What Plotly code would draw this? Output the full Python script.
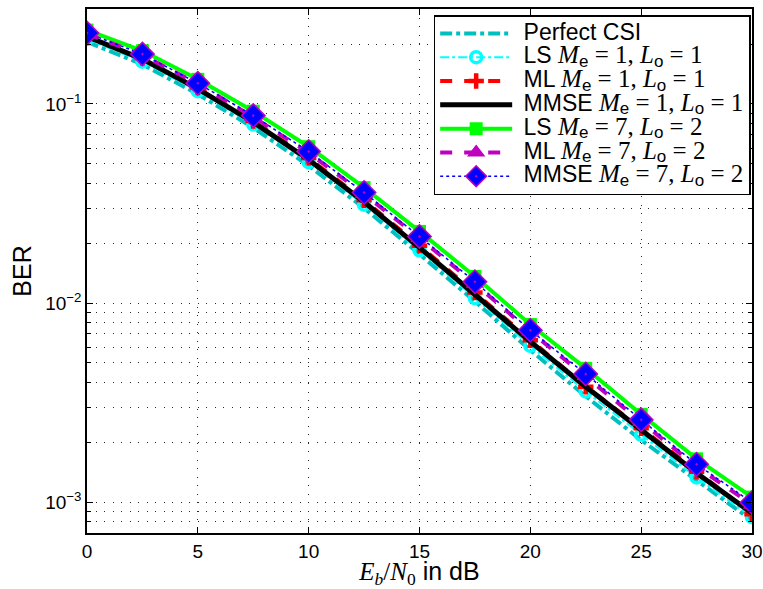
import plotly.graph_objects as go

snr_db = [0, 2.5, 5, 7.5, 10, 12.5, 15, 17.5, 20, 22.5, 25, 27.5, 30]

ber_perfect = [0.205, 0.158, 0.112, 0.076, 0.049, 0.0300, 0.0176, 0.0102, 0.0058, 0.0034, 0.00205, 0.00128, 0.00081]
ber_ls_1 = [0.212, 0.163, 0.116, 0.079, 0.051, 0.0312, 0.0184, 0.0106, 0.0061, 0.0036, 0.00218, 0.00133, 0.00084]
ber_ml_1 = [0.219, 0.170, 0.121, 0.082, 0.0535, 0.0328, 0.0194, 0.0113, 0.0065, 0.0038, 0.00235, 0.00142, 0.00087]
ber_mmse_1 = [0.218, 0.168, 0.119, 0.081, 0.0525, 0.0322, 0.0190, 0.0110, 0.0064, 0.0038, 0.00232, 0.00140, 0.00088]
ber_ls_7 = [0.235, 0.185, 0.133, 0.092, 0.061, 0.038, 0.0229, 0.0136, 0.0078, 0.0047, 0.00276, 0.00165, 0.00106]
ber_ml_7 = [0.225, 0.176, 0.126, 0.086, 0.0568, 0.0353, 0.0212, 0.0125, 0.0072, 0.0043, 0.00253, 0.00151, 0.00097]
ber_mmse_7 = [0.227, 0.178, 0.127, 0.0874, 0.0577, 0.0359, 0.0216, 0.0128, 0.0073, 0.0044, 0.00259, 0.00155, 0.000997]

y_tickvals = [1e-3, 1e-2, 1e-1]
y_ticktext = ["10<sup>\u22123</sup>", "10<sup>\u22122</sup>", "10<sup>\u22121</sup>"]
y_minor = [8e-4, 9e-4] + [k * 1e-3 for k in range(2, 10)] + [k * 1e-2 for k in range(2, 10)] + [2e-1, 3e-1]
x_tickvals = [0, 5, 10, 15, 20, 25, 30]

SANS = "Liberation Sans"
SERIF = "Liberation Serif"
LEG_PX = 23
MATH_PX = 25
SUB_PX = 17


def seg(s, serif=False, px=None):
    fam = SERIF if serif else SANS
    if px is None:
        px = MATH_PX if serif else LEG_PX
    return f'<span style="font-family:{fam};font-size:{px}px">{s}</span>'


def sub(s):
    return "<sub>" + seg(s, px=SUB_PX) + "</sub>"


GAP = seg("&nbsp;")


def label(name, me, lo):
    return (GAP + seg(f"{name} ") + seg("<i>M</i>", True) + sub("e") + seg(f" = {me}, ", True) +
            seg("<i>L</i>", True) + sub("o") + seg(f" = {lo}", True))


fig = go.Figure()

fig.add_trace(go.Scatter(x=snr_db, y=ber_perfect, name=GAP + seg("Perfect CSI"), mode="lines",
                         line=dict(color="rgb(0,191,191)", width=4, dash="dashdot")))
fig.add_trace(go.Scatter(x=snr_db, y=ber_ls_1, name=label("LS", 1, 1), mode="lines+markers",
                         line=dict(color="rgb(0,255,255)", width=2, dash="dashdot"),
                         marker=dict(symbol="circle-open", size=11, color="rgb(0,255,255)",
                                     line=dict(width=3.5, color="rgb(0,255,255)"))))
fig.add_trace(go.Scatter(x=snr_db, y=ber_ml_1, name=label("ML", 1, 1), mode="lines+markers",
                         line=dict(color="rgb(255,0,0)", width=4, dash="dash"),
                         marker=dict(symbol="cross-thin", size=11, color="rgb(255,0,0)",
                                     line=dict(width=4.5, color="rgb(255,0,0)"))))
fig.add_trace(go.Scatter(x=snr_db, y=ber_mmse_1, name=label("MMSE", 1, 1), mode="lines",
                         line=dict(color="black", width=5)))
fig.add_trace(go.Scatter(x=snr_db, y=ber_ls_7, name=label("LS", 7, 2), mode="lines+markers",
                         line=dict(color="rgb(0,255,0)", width=4),
                         marker=dict(symbol="square", size=13, color="rgb(0,255,0)")))
fig.add_trace(go.Scatter(x=snr_db, y=ber_ml_7, name=label("ML", 7, 2), mode="lines+markers",
                         line=dict(color="rgb(191,0,191)", width=4, dash="dash"),
                         marker=dict(symbol="triangle-up", size=16, color="rgb(191,0,191)")))
fig.add_trace(go.Scatter(x=snr_db, y=ber_mmse_7, name=label("MMSE", 7, 2), mode="lines+markers",
                         line=dict(color="rgb(0,0,255)", width=1.5, dash="dot"),
                         marker=dict(symbol="diamond-dot", size=18, color="rgb(0,0,255)",
                                     line=dict(width=1.5, color="rgb(191,0,191)"))))

FONT = "Liberation Sans, Arial, sans-serif"
GRID = "rgb(40,40,40)"
DOTS = "1px,7.5px"

fig.update_layout(
    width=763, height=589,
    margin=dict(l=87, r=11, t=9, b=56),
    paper_bgcolor="white", plot_bgcolor="white",
    font=dict(family=FONT, color="black", size=19),
    showlegend=True,
    legend=dict(x=0.998, y=0.9885, xanchor="right", yanchor="top",
                bgcolor="white", bordercolor="black", borderwidth=1.5,
                font=dict(family=FONT, size=16, color="black"),
                itemwidth=72, tracegroupgap=0),
    xaxis=dict(range=[0, 30], tickmode="array", tickvals=x_tickvals,
               ticks="inside", ticklen=6, tickcolor="black", tickwidth=1,
               showline=True, linecolor="black", linewidth=1.5, mirror="ticks",
               showgrid=True, gridcolor=GRID, griddash=DOTS, gridwidth=1,
               zeroline=False, tickfont=dict(size=19), automargin=False,
               title=dict(text=f'<span style="font-family:{SERIF}"><i>E</i><sub><i>b</i></sub>/<i>N</i><sub>0</sub></span> in dB',
                          font=dict(size=25), standoff=2)),
    yaxis=dict(type="log", range=[-3.155, -0.523], tickmode="array",
               tickvals=y_tickvals, ticktext=y_ticktext,
               ticks="inside", ticklen=6, tickcolor="black", tickwidth=1,
               showline=True, linecolor="black", linewidth=1.5, mirror="ticks",
               showgrid=True, gridcolor=GRID, griddash=DOTS, gridwidth=1,
               zeroline=False, tickfont=dict(size=19), automargin=False,
               minor=dict(tickmode="array", tickvals=y_minor, ticks="inside", ticklen=4,
                          tickcolor="black", showgrid=True, gridcolor=GRID,
                          griddash=DOTS, gridwidth=1),
               title=dict(text="BER", font=dict(size=25), standoff=6)),
)

fig.write_html("out.html")
